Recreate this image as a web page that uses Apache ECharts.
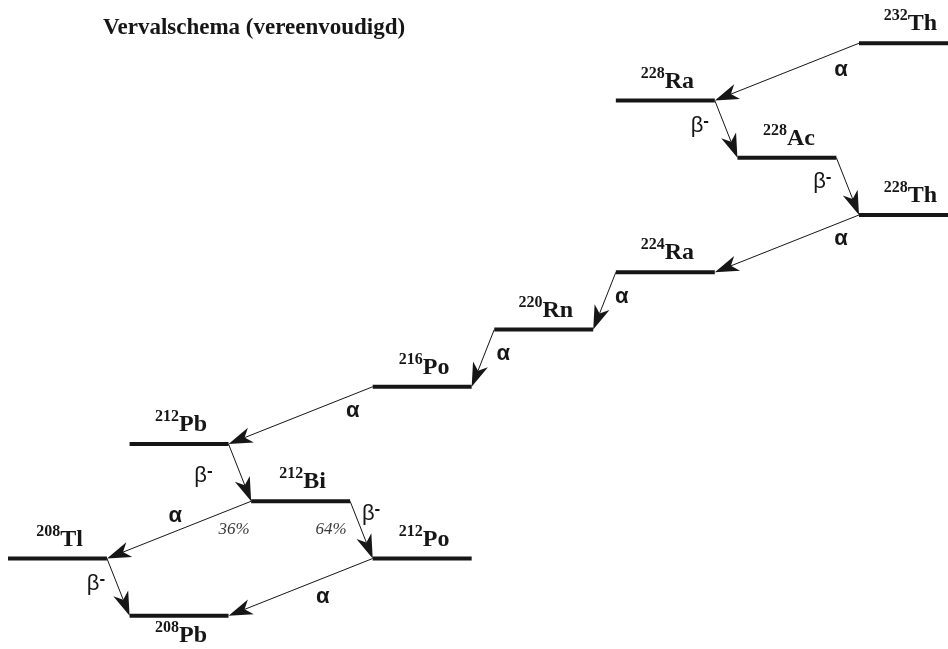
<!DOCTYPE html>
<html><head><meta charset="utf-8">
<script src="https://cdn.jsdelivr.net/npm/echarts@6/dist/echarts.min.js"></script>
<style>html,body{margin:0;padding:0;background:#fff}#main{width:948px;height:649px}</style>
</head><body><div id="main"></div>
<script>
// ---- data ----
const titleText = 'Vervalschema (vereenvoudigd)';
const elementColumns = ['Tl', 'Pb', 'Bi', 'Po', 'Rn', 'Ra', 'Ac', 'Th'];
const massNumbers = [232, 228, 228, 228, 224, 220, 216, 212, 212, 208, 212, 208];
const elements    = ['Th', 'Ra', 'Ac', 'Th', 'Ra', 'Rn', 'Po', 'Pb', 'Bi', 'Tl', 'Po', 'Pb'];
const decaySteps  = [0, 1, 2, 3, 4, 5, 6, 7, 8, 9, 9, 10];
const decayFrom   = [0, 1, 2, 3, 4, 5, 6, 7, 8, 8, 10, 9];
const decayTo     = [1, 2, 3, 4, 5, 6, 7, 8, 9, 10, 11, 11];
const decayModes  = ['α', 'β-', 'β-', 'α', 'α', 'α', 'α', 'β-', 'α', 'β-', 'α', 'β-'];
const branchRatios = ['', '', '', '', '', '', '', '', '36%', '64%', '', ''];

// ---- layout / style ----
const LEVEL_WIDTH = 0.814;
const COLUMN_PX = 121.57;
const modeLabelOffsets = [[-18, 27], [-15, 24], [-14, 23.5], [-18, 24], [6, 25], [9, 24], [-20, 24], [-25, 31], [-76, 15], [21, 12], [-50, 38], [-11, 24]];
const branchLabelOffsets = [null, null, null, null, null, null, null, null, [-17, 28], [-19, 28], null, null];
const INK = '#161616';
const SERIF = '"Liberation Serif", "Times New Roman", serif';
const SANS = '"Liberation Sans", Arial, sans-serif';

const colOf = i => elementColumns.indexOf(elements[i]);
const hasOutgoing = i => decayFrom.indexOf(i) >= 0;

const levelData = elements.map((el, i) => [colOf(i), decaySteps[i], colOf(i) + LEVEL_WIDTH, i]);
const transitionData = decayFrom.map((f, k) => {
  const t = decayTo[k];
  const alpha = decayModes[k] === 'α';
  const x1 = alpha ? colOf(f) : colOf(f) + LEVEL_WIDTH;
  const x2 = alpha ? colOf(t) + LEVEL_WIDTH : colOf(t);
  return [x1, decaySteps[f], x2, decaySteps[t], k];
});

const chart = echarts.init(document.getElementById('main'), null, {renderer: 'canvas'});
chart.setOption({
  animation: false,
  backgroundColor: '#fff',
  title: {
    text: titleText, left: 103, top: 17, padding: 0,
    textStyle: {fontFamily: SERIF, fontWeight: 'bold', fontSize: 23, color: INK, lineHeight: 23}
  },
  grid: {left: 8, right: 0, top: 43.25, bottom: 33.25},
  xAxis: {type: 'value', min: 0, max: 940 / COLUMN_PX, show: false},
  yAxis: {type: 'value', min: 0, max: 10, inverse: true, show: false},
  series: [
    {
      type: 'custom', name: 'transitions', data: transitionData,
      encode: {x: [0, 2], y: [1, 3]},
      renderItem: function (params, api) {
        const k = api.value(4);
        const a = api.coord([api.value(0), api.value(1)]);
        const b = api.coord([api.value(2), api.value(3)]);
        const dx = b[0] - a[0], dy = b[1] - a[1];
        const len = Math.sqrt(dx * dx + dy * dy);
        const ux = dx / len, uy = dy / len, nx = -uy, ny = ux;
        const L = 24, W = 8, notch = 0.72;
        const back = [b[0] - ux * L, b[1] - uy * L];
        const nPt = [b[0] - ux * L * notch, b[1] - uy * L * notch];
        const children = [
          {type: 'line', shape: {x1: a[0], y1: a[1], x2: nPt[0], y2: nPt[1]}, style: {stroke: INK, lineWidth: 1}},
          {type: 'polygon', shape: {points: [b, [back[0] + nx * W, back[1] + ny * W], nPt, [back[0] - nx * W, back[1] - ny * W]]}, style: {fill: INK}}
        ];
        const off = modeLabelOffsets[k];
        const isBeta = decayModes[k] !== 'α';
        children.push({
          type: 'text', x: a[0] + off[0], y: a[1] + off[1],
          style: {
            text: isBeta ? '{b|β}{s|-}' : '{a|α}',
            align: 'center', verticalAlign: 'middle',
            rich: {
              a: {fontFamily: SANS, fontWeight: 'bold', fontSize: 22, fill: INK, color: INK},
              b: {fontFamily: SANS, fontSize: 22, fill: INK, color: INK, lineHeight: 24, verticalAlign: 'bottom'},
              s: {fontFamily: SANS, fontWeight: 'bold', fontSize: 17, fill: INK, color: INK, lineHeight: 12, verticalAlign: 'top'}
            }
          }
        });
        if (branchRatios[k]) {
          const bo = branchLabelOffsets[k];
          children.push({
            type: 'text', x: a[0] + bo[0], y: a[1] + bo[1],
            style: {text: branchRatios[k], align: 'center', verticalAlign: 'middle',
              fontFamily: SERIF, fontStyle: 'italic', fontSize: 17, fill: '#3a3a3a'}
          });
        }
        return {type: 'group', children: children};
      }
    },
    {
      type: 'custom', name: 'levels', data: levelData,
      encode: {x: [0, 2], y: 1},
      renderItem: function (params, api) {
        const i = api.value(3);
        const p1 = api.coord([api.value(0), api.value(1)]);
        const p2 = api.coord([api.value(2), api.value(1)]);
        const below = !hasOutgoing(i);
        const cx = (p1[0] + p2[0]) / 2 + 2;
        return {
          type: 'group',
          children: [
            {type: 'line', shape: {x1: p1[0], y1: p1[1], x2: p2[0], y2: p2[1]}, style: {stroke: INK, lineWidth: 4}},
            {
              type: 'text', x: cx, y: below ? p1[1] + 32 : p1[1] - 7,
              style: {
                text: '{m|' + massNumbers[i] + '}{e|' + elements[i] + '}',
                align: 'center', verticalAlign: 'bottom',
                rich: {
                  m: {fontFamily: SERIF, fontWeight: 'bold', fontSize: 16, lineHeight: 14, verticalAlign: 'top', fill: INK, color: INK},
                  e: {fontFamily: SERIF, fontWeight: 'bold', fontSize: 24, lineHeight: 28, verticalAlign: 'bottom', fill: INK, color: INK}
                }
              }
            }
          ]
        };
      }
    }
  ]
});
</script>
</body></html>
